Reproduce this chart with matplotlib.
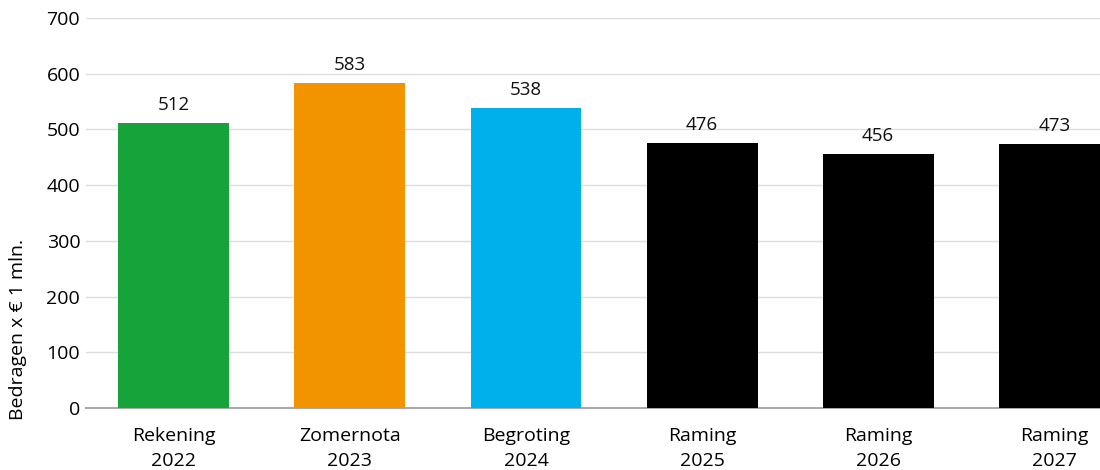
import matplotlib.pyplot as plt

categories = ["Rekening\n2022", "Zomernota\n2023", "Begroting\n2024",
              "Raming\n2025", "Raming\n2026", "Raming\n2027"]
values = [512, 583, 538, 476, 456, 473]
colors = ["#16a33a", "#f29400", "#00b0ea", "#000000", "#000000", "#000000"]

plt.rcParams['font.family'] = ['Open Sans', 'DejaVu Sans']
fig = plt.figure(figsize=(11, 4.7), dpi=100)
ax = fig.add_axes([0.078, 0.132, 0.922, 0.83])

x = range(len(values))
bars = ax.bar(x, values, width=0.63, color=colors, zorder=3)
for b, v in zip(bars, values):
    ax.text(b.get_x() + b.get_width() / 2, v + 16, str(v), ha='center',
            va='bottom', fontsize=13.5, color='#111111')

ax.set_xlim(-0.5, 5.26)
ax.set_ylim(0, 700)
ax.set_yticks(range(0, 701, 100))
ax.set_xticks(list(x))
ax.set_xticklabels(categories, fontsize=14, linespacing=1.5)
ax.tick_params(axis='y', labelsize=14, length=0, pad=4)
ax.tick_params(axis='x', length=0, pad=14)
ax.grid(axis='y', color='#dddddd', linewidth=1, zorder=0)
for s in ['top', 'right', 'left']:
    ax.spines[s].set_visible(False)
ax.spines['bottom'].set_color('#aaaaaa')
ax.spines['bottom'].set_linewidth(1.5)
fig.text(18 / 1100, 1 - 330 / 470, "Bedragen x € 1 mln.", rotation=90,
         ha='center', va='center', fontsize=14)

plt.savefig('out.png')
